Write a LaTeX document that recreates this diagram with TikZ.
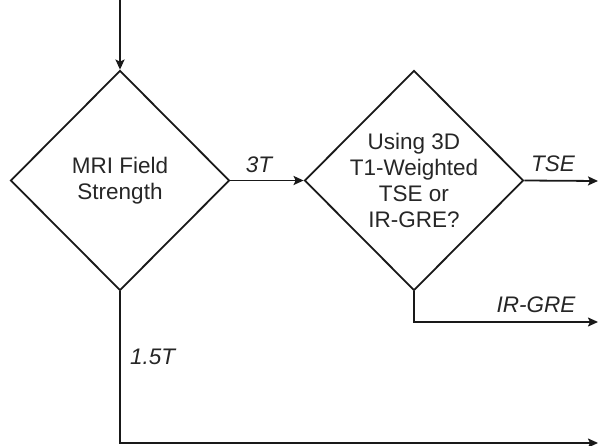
\documentclass[tikz,border=0pt]{standalone}
\usepackage{fontspec}
\setmainfont{Liberation Sans}
\usetikzlibrary{shapes.geometric,arrows.meta}
\begin{document}
\begin{tikzpicture}[x=1pt,y=-1pt,
  dec/.style={draw=black!90, diamond, minimum width=219pt, minimum height=220pt, inner sep=0pt,
    line width=1.8pt},
  dtext/.style={align=center, inner sep=0pt, font=\fontsize{22.5}{26.3}\selectfont, text=black!85},
  flow/.style={draw=black!90, line width=1.8pt, -{Stealth[length=10pt,width=9pt,inset=2pt]}},
  lab/.style={font=\fontsize{22.5}{26}\selectfont\itshape, text=black!85, inner sep=0pt}]
\useasboundingbox (0,0) rectangle (598,446);
\coordinate (start) at (120,0);
\node[dec] (d1) at (120,180.5) {};
\node[dtext] (t1) at (d1.center) {MRI Field\\Strength};
\node[dec] (d2) at (414,180.5) {};
\node[dtext] (t2) at (d2.center) {Using 3D\\T1-Weighted\\TSE or\\IR-GRE?};
\coordinate (tse) at (598,181);
\coordinate (ir) at (598,322);
\coordinate (lo) at (598,443);
\draw[flow] (start) -- (d1.north);
\draw[flow] (d1.east) -- (d2.west);
\draw[flow] (d2.east) -- (tse);
\draw[flow] (d2.south) |- (ir);
\draw[flow] (d1.south) |- (lo);
\node[lab, anchor=base] (l3t) at (259,173) {3T};
\node[lab, anchor=base] (ltse) at (553,172) {TSE};
\node[lab, anchor=base] (lir) at (536,313) {IR-GRE};
\node[lab, anchor=base west] (l15) at (130,365) {1.5T};
\end{tikzpicture}
\end{document}
